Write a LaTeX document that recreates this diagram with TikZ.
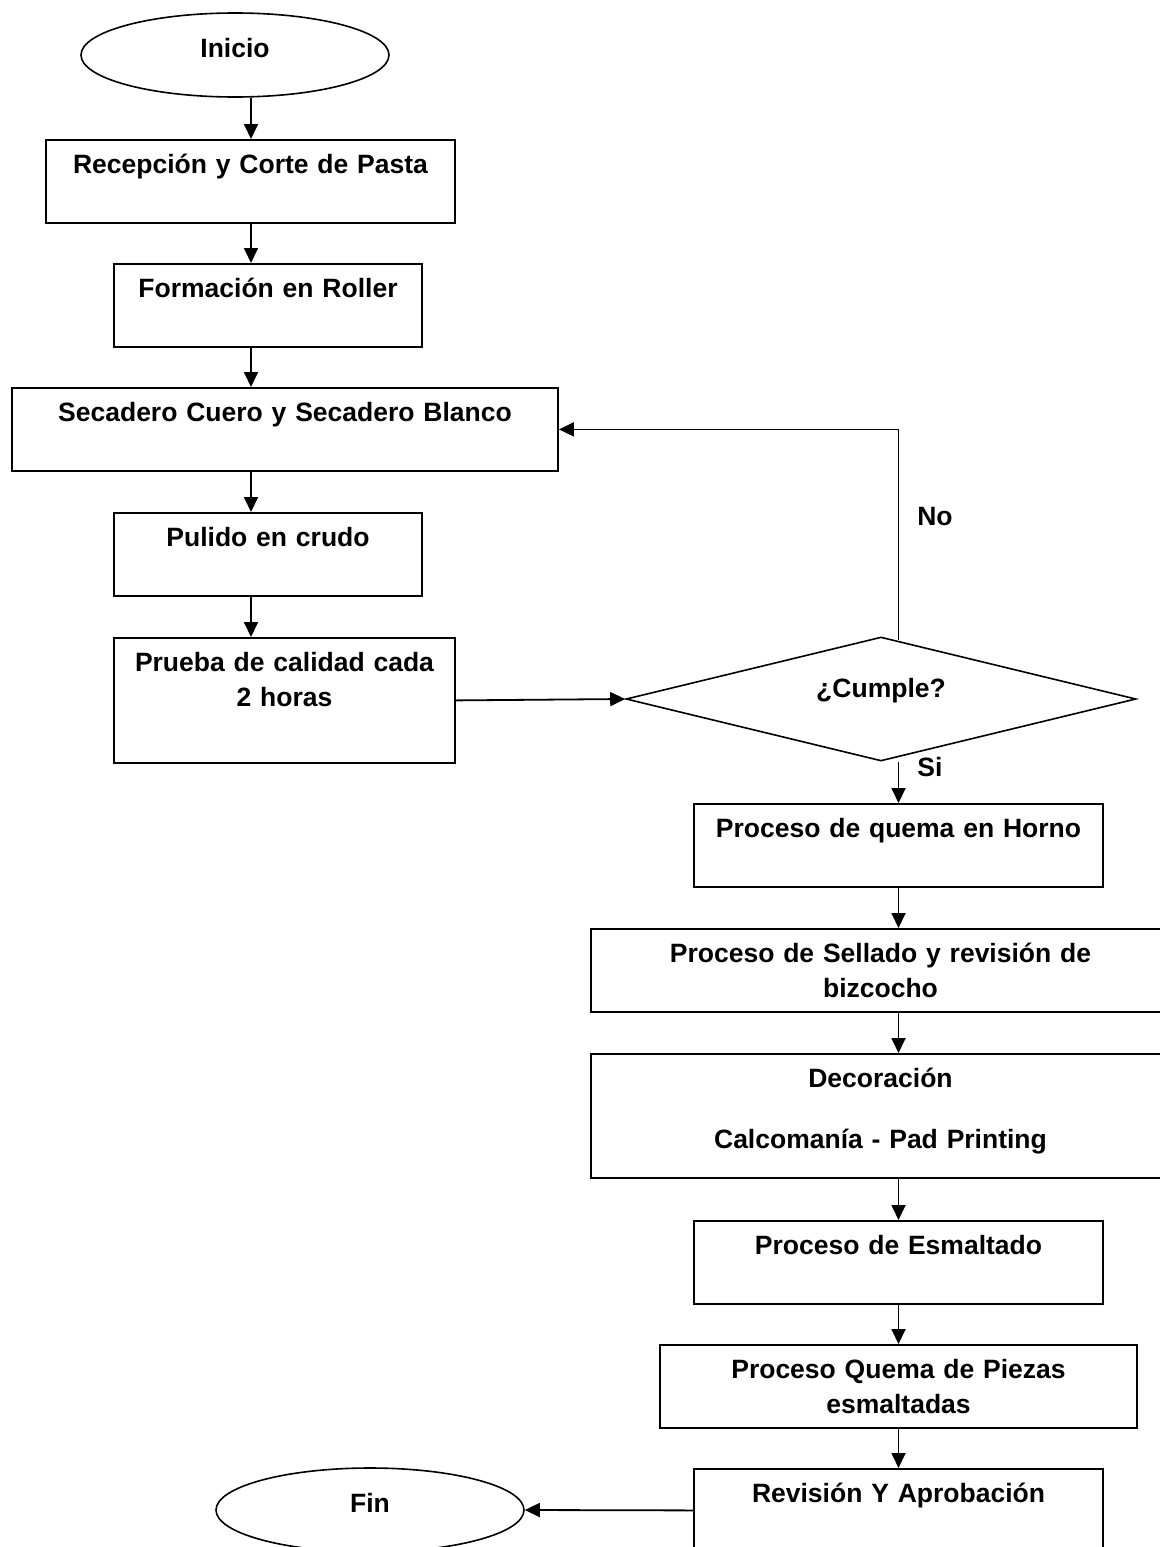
\documentclass[tikz,border=0pt]{standalone}
\usepackage{fontspec}
\setmainfont{Liberation Sans}
\usetikzlibrary{arrows.meta, shapes.geometric, calc}

\begin{document}
\begin{tikzpicture}[
    x=0.5pt, y=-0.5pt,
    every node/.style={font=\fontsize{13.25pt}{17.5pt}\selectfont\bfseries},
    proc/.style={
        rectangle, draw, line width=0.9pt, inner sep=0pt,
        text width=#1, align=center, anchor=north,
        text height=17pt, text depth=24.5pt
    },
    tall/.style={text depth=45.5pt},
    term/.style={
        ellipse, draw, line width=0.8pt, inner sep=0pt,
        minimum width=154pt, minimum height=42pt,
        text height=6pt, text depth=4pt
    },
    decision/.style={
        diamond, draw, line width=0.8pt, inner sep=0pt, aspect=4.11,
        minimum width=255pt, minimum height=62pt,
        text height=5pt, text depth=7pt
    },
    lbl/.style={anchor=base},
    arr/.style={-{Triangle[length=7.5pt, width=7pt]}, line width=0.9pt}
]
\useasboundingbox (0,0) rectangle (1160,1547);

% ===================================================================
% LEFT COLUMN
% ===================================================================
\coordinate (colL) at (251,0);

\node[term] (start) at (235,55) {Inicio};
\node[proc=204.5pt] (recep) at (250.5,139) {Recepción y Corte de Pasta};
\node[proc=154pt] (roller) at (268,263) {Formación en Roller};
\node[proc=273pt] (secad) at (285,387) {Secadero Cuero y Secadero Blanco};
\node[proc=154pt] (pulido) at (268,512) {Pulido en crudo};
\node[proc=170.5pt, tall] (prueba) at (284.5,637)
    {Prueba de calidad cada\\2 horas};

% ===================================================================
% DECISION
% ===================================================================
\node[decision] (cumple) at (881,699) {¿Cumple?};

% ===================================================================
% RIGHT COLUMN
% ===================================================================
\coordinate (colR) at (898.5,0);

\node[proc=204.5pt] (horno) at (898.5,803) {Proceso de quema en Horno};
\node[proc=289.5pt] (sellado) at (880.5,928)
    {Proceso de Sellado y revisión de\\bizcocho};
\node[proc=289.5pt, tall, text depth=45pt] (decor) at (880.5,1053)
    {Decoración\\[13pt]Calcomanía - Pad Printing};
\node[proc=204.5pt] (esmalte) at (898.5,1220) {Proceso de Esmaltado};
\node[proc=238.5pt] (quema) at (898.5,1344)
    {Proceso Quema de Piezas\\esmaltadas};
\node[proc=204.5pt] (revision) at (898.5,1468) {Revisión Y Aprobación};

\node[term] (fin) at (370,1510) {Fin};

% ===================================================================
% CONNECTORS
% ===================================================================
\draw[arr] (start.south -| colL) -- (recep.north -| colL);
\draw[arr] (recep.south -| colL) -- (roller.north -| colL);
\draw[arr] (roller.south -| colL) -- (secad.north -| colL);
\draw[arr] (secad.south -| colL) -- (pulido.north -| colL);
\draw[arr] (pulido.south -| colL) -- (prueba.north -| colL);

\draw[arr] (prueba.east) -- (cumple.west);

% No: back to the dryer
\draw[arr] ($(cumple.north -| colR)+(0,4)$) |- (secad.east);
\node[lbl] (no) at (935,525) {No};

% Si: on to the kiln
\draw[arr] (cumple.south -| colR) -- (horno.north -| colR);
\node[lbl] (si) at (930,776) {Si};

\draw[arr] (horno.south -| colR) -- (sellado.north -| colR);
\draw[arr] (sellado.south -| colR) -- (decor.north -| colR);
\draw[arr] (decor.south -| colR) -- (esmalte.north -| colR);
\draw[arr] (esmalte.south -| colR) -- (quema.north -| colR);
\draw[arr] (quema.south -| colR) -- (revision.north -| colR);

\draw[arr] (revision.west) -- (fin.east);

\end{tikzpicture}
\end{document}
